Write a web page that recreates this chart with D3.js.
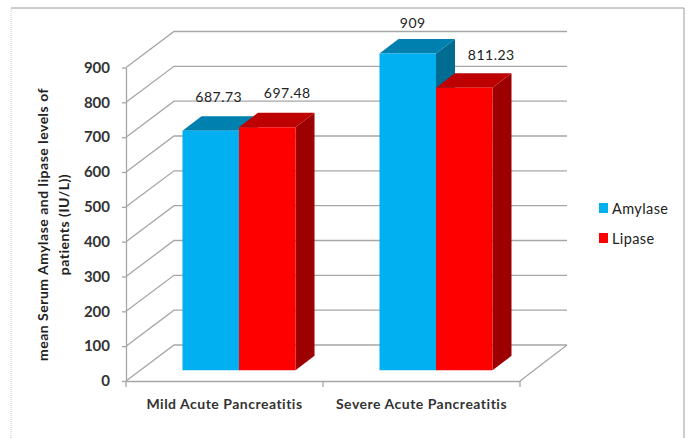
<!DOCTYPE html>
<html>
<head>
<meta charset="utf-8">
<script src="https://cdn.jsdelivr.net/npm/d3@7"></script>
<style>
html,body{margin:0;padding:0;background:#fff}
svg{display:block}
text{font-family:Lato,"Open Sans",sans-serif}
</style>
</head>
<body>
<svg id="chart" width="689" height="438"></svg>
<script>
const categories = ["Mild Acute Pancreatitis", "Severe Acute Pancreatitis"];
const seriesNames = ["Amylase", "Lipase"];
const amylase = [687.73, 909];
const lipase = [697.48, 811.23];
const amylaseLabels = ["687.73", "909"];
const lipaseLabels = ["697.48", "811.23"];
const yTicks = [0, 100, 200, 300, 400, 500, 600, 700, 800, 900];
const yTitle = ["mean Serum Amylase and lipase levels of", "patients (IU/L))"];

const fills = {
  Amylase: {front: "#00b0f0", top: "#0080ae", side: "#006c92"},
  Lipase: {front: "#ff0000", top: "#bd0000", side: "#9c0000"}
};

const svg = d3.select("#chart");
const plotLeft = 126, plotRight = 520, plotBase = 381, plotTop = 67.5;
const wallDx = 48, wallDy = -36;      // oblique depth of the whole plot box
const barDx = 19, barDy = -14.5;      // oblique depth of a single column
const gridColor = "#a6a6a6", inkColor = "#333";

const x0 = d3.scaleBand().domain(categories).range([plotLeft, plotRight]);
const x1 = d3.scaleBand().domain(seriesNames).range([0, x0.bandwidth()])
  .paddingInner(0).paddingOuter(0.743);
const y = d3.scaleLinear().domain([0, 900]).range([plotBase, plotTop]);

// Frame around the figure
svg.append("path").attr("d", "M11,438V8")
  .attr("fill", "none").attr("stroke", "#c8c8c8").attr("stroke-dasharray", "1,1");
svg.append("path").attr("d", "M11,8H684V438")
  .attr("fill", "none").attr("stroke", "#9a9a9a");

// Side wall and back wall gridlines
const grid = svg.append("g").attr("fill", "none").attr("stroke", gridColor).attr("stroke-width", 1.3);
yTicks.forEach(t => {
  const p = d3.path();
  p.moveTo(plotLeft, y(t));
  p.lineTo(plotLeft + wallDx, y(t) + wallDy);
  p.lineTo(plotRight + wallDx - 1, y(t) + wallDy);
  grid.append("path").attr("d", p.toString());
});
// Right edge of the floor
grid.append("line").attr("x1", plotRight).attr("y1", plotBase)
  .attr("x2", plotRight + wallDx - 1).attr("y2", plotBase + wallDy);

// Value axis
const yAxis = svg.append("g").attr("transform", `translate(${plotLeft},0)`)
  .call(d3.axisLeft(y).tickValues(yTicks).tickSize(4).tickPadding(12).tickSizeOuter(0));
yAxis.selectAll("line,path").attr("stroke", gridColor).attr("stroke-width", 1.3);
yAxis.selectAll("text").attr("font-size", 15).attr("font-weight", 700)
  .attr("fill", inkColor).attr("font-family", 'Lato,"Open Sans",sans-serif');

// Category axis, with ticks on the band boundaries
const xAxis = svg.append("g").attr("transform", `translate(0,${plotBase})`)
  .call(d3.axisBottom(x0).tickSize(0).tickPadding(18));
xAxis.select(".domain").attr("stroke", gridColor).attr("stroke-width", 1.3);
xAxis.selectAll("text").attr("font-size", 14).attr("font-weight", 700).attr("letter-spacing", 0.5)
  .attr("fill", inkColor).attr("font-family", 'Lato,"Open Sans",sans-serif');
[plotLeft, ...categories.map(c => x0(c) + x0.bandwidth())].forEach(px => {
  xAxis.append("line").attr("x1", px).attr("x2", px).attr("y1", 0).attr("y2", 6)
    .attr("stroke", gridColor).attr("stroke-width", 1.3);
});

// Columns: amylase first so the lipase column overlaps its side face
const floorDx = (wallDx - barDx) / 2, floorDy = (wallDy - barDy) / 2;
const poly = pts => d3.line()(pts) + "Z";
const rows = categories.flatMap((c, i) => [
  {cat: c, name: "Amylase", v: amylase[i], label: amylaseLabels[i]},
  {cat: c, name: "Lipase", v: lipase[i], label: lipaseLabels[i]}
]);
const geom = d => {
  const xa = x0(d.cat) + x1(d.name) + floorDx, xb = xa + x1.bandwidth();
  const yb = plotBase + floorDy, yt = yb - (y(0) - y(d.v));
  return {xa, xb, yb, yt};
};
const column = svg.append("g").selectAll("g").data(rows).join("g");
column.append("path").attr("fill", d => fills[d.name].side).attr("d", d => {
  const g = geom(d);
  return poly([[g.xb, g.yt], [g.xb + barDx, g.yt + barDy], [g.xb + barDx, g.yb + barDy], [g.xb, g.yb]]);
});
column.append("path").attr("fill", d => fills[d.name].top).attr("d", d => {
  const g = geom(d);
  return poly([[g.xa, g.yt], [g.xa + barDx, g.yt + barDy], [g.xb + barDx, g.yt + barDy], [g.xb, g.yt]]);
});
column.append("path").attr("fill", d => fills[d.name].front).attr("d", d => {
  const g = geom(d);
  return poly([[g.xa, g.yt], [g.xb, g.yt], [g.xb, g.yb], [g.xa, g.yb]]);
});

// Value labels sit above each column, each placed by hand off its column's top
const labelNudgeX = [8, 20, 5, 27];
const labelNudgeY = [-28.5, -29, -25.5, -28];
svg.append("g").selectAll("text").data(rows).join("text")
  .attr("x", (d, i) => (geom(d).xa + geom(d).xb) / 2 + labelNudgeX[i])
  .attr("y", (d, i) => geom(d).yt + labelNudgeY[i])
  .attr("text-anchor", "middle").attr("font-size", 14).attr("letter-spacing", 0.5)
  .attr("fill", "#222").text(d => d.label);

// Value axis title, two rotated lines
const title = svg.append("text")
  .attr("transform", "translate(48,224.5) rotate(-90)")
  .attr("text-anchor", "middle").attr("font-size", 14).attr("font-weight", 700)
  .attr("letter-spacing", 0.5).attr("fill", "#222");
yTitle.forEach((line, i) => {
  title.append("tspan").attr("x", 0).attr("dy", i ? 21 : 0).text(line);
});

// Legend
const legend = svg.append("g").selectAll("g").data(seriesNames).join("g")
  .attr("transform", (d, i) => `translate(599,${203 + i * 30})`);
legend.append("rect").attr("width", 9).attr("height", 10).attr("fill", d => fills[d].front);
legend.append("text").attr("x", 13).attr("y", 11).attr("font-size", 14.5)
  .attr("letter-spacing", 0.4).attr("fill", "#222").text(d => d);
</script>
</body>
</html>
